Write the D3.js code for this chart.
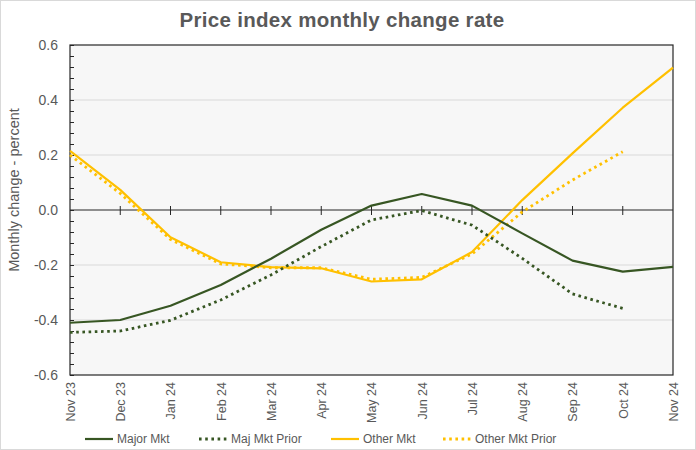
<!DOCTYPE html>
<html><head><meta charset="utf-8">
<script src="https://cdn.jsdelivr.net/npm/d3@7"></script>
<style>
html,body{margin:0;padding:0;background:#fff;}
svg{display:block;font-family:"Liberation Sans",Arial,sans-serif;}
</style></head>
<body>
<svg id="chart" width="696" height="450"></svg>
<script>
const months = ["Nov 23","Dec 23","Jan 24","Feb 24","Mar 24","Apr 24","May 24","Jun 24","Jul 24","Aug 24","Sep 24","Oct 24","Nov 24"];
const majorMkt = [-0.41,-0.40,-0.348,-0.273,-0.177,-0.072,0.016,0.058,0.016,-0.085,-0.184,-0.224,-0.207];
const majMktPrior = [-0.445,-0.44,-0.401,-0.327,-0.236,-0.133,-0.036,-0.002,-0.055,-0.176,-0.305,-0.358,null];
const otherMkt = [0.215,0.073,-0.099,-0.19,-0.208,-0.212,-0.26,-0.252,-0.153,0.036,0.206,0.372,0.518];
const otherMktPrior = [0.2,0.06,-0.107,-0.196,-0.21,-0.21,-0.252,-0.245,-0.16,-0.007,0.109,0.212,null];
const yTicks = [-0.6,-0.4,-0.2,0.0,0.2,0.4,0.6];
const title = "Price index monthly change rate";
const yLabel = "Monthly change - percent";

const svg = d3.select("#chart");
const W = 696, H = 450;
const L = 70, R = 673, T = 45, B = 375;
const green = "#375623", gold = "#FFC000";
const DOT = "2.6,3.6";

svg.append("rect").attr("x",0.5).attr("y",0.5).attr("width",W-1).attr("height",H-1)
  .attr("fill","#fff").attr("stroke","#d9d9d9");

const x = d3.scalePoint().domain(months).range([L,R]);
const y = d3.scaleLinear().domain([-0.6,0.6]).range([B,T]);

svg.append("rect").attr("x",L).attr("y",T).attr("width",R-L).attr("height",B-T).attr("fill","#f7f7f7");

// gridlines
svg.append("g").selectAll("line").data(yTicks.filter(v=>v!==0 && Math.abs(v)<0.6)).join("line")
  .attr("x1",L).attr("x2",R).attr("y1",d=>y(d)).attr("y2",d=>y(d))
  .attr("stroke","#d9d9d9").attr("stroke-width",1);

// y axis labels
const fmt = v => d3.format(".1f")(v).replace("\u2212","-");
const yAx = svg.append("g").attr("transform",`translate(${L},0)`)
  .call(d3.axisLeft(y).tickValues(yTicks).tickFormat(fmt).tickSize(0).tickPadding(12));
yAx.select(".domain").remove();
yAx.selectAll("text").attr("fill","#595959").style("font-size","14px").style("font-family","Liberation Sans, Arial, sans-serif");

// minor ticks inside
const minor = d3.range(-0.6,0.6001,0.04).map(v=>+v.toFixed(2));
const mAx = svg.append("g").attr("transform",`translate(${L},0)`)
  .call(d3.axisRight(y).tickValues(minor).tickSize(4).tickFormat(""));
mAx.select(".domain").remove();
mAx.selectAll("line").attr("stroke","#262626");

// zero line with crossing ticks
svg.append("line").attr("x1",L).attr("x2",R).attr("y1",y(0)).attr("y2",y(0)).attr("stroke","#262626").attr("stroke-width",1.2);
svg.append("g").selectAll("line").data(months.slice(1,-1)).join("line")
  .attr("x1",d=>x(d)).attr("x2",d=>x(d)).attr("y1",y(0)-4).attr("y2",y(0)+5)
  .attr("stroke","#262626").attr("stroke-width",1);

// x axis labels
const xAx = svg.append("g").attr("transform",`translate(0,${B})`)
  .call(d3.axisBottom(x).tickSize(0));
xAx.select(".domain").remove();
xAx.selectAll("text").attr("transform","rotate(-90)").attr("x",-7).attr("y",0).attr("dy","0.35em")
  .style("text-anchor","end").attr("fill","#595959").style("font-size","12.5px").style("font-family","Liberation Sans, Arial, sans-serif");

// plot border
svg.append("rect").attr("x",L).attr("y",T).attr("width",R-L).attr("height",B-T)
  .attr("fill","none").attr("stroke","#262626").attr("stroke-width",1.2);

// lines
const line = d3.line().defined(d=>d.v!==null).x(d=>x(d.m)).y(d=>y(d.v));
const series = [
  {name:"Major Mkt", vals:majorMkt, color:green, dash:null},
  {name:"Maj Mkt Prior", vals:majMktPrior, color:green, dash:true},
  {name:"Other Mkt", vals:otherMkt, color:gold, dash:null},
  {name:"Other Mkt Prior", vals:otherMktPrior, color:gold, dash:true}
];
const drawOrder = [series[3],series[2],series[1],series[0]];
drawOrder.forEach(s=>{
  svg.append("path").datum(s.vals.map((v,i)=>({m:months[i],v})))
    .attr("d",line).attr("fill","none").attr("stroke",s.color)
    .attr("stroke-width",s.dash?2.8:2.2)
    .attr("stroke-dasharray",s.dash?DOT:null)
    .attr("stroke-linejoin","round");
});

// title
svg.append("text").attr("x",342).attr("y",27).attr("text-anchor","middle")
  .attr("fill","#595959").style("font-size","20.5px").style("font-weight","bold")
  .style("letter-spacing","0.3px").text(title);

// y label
svg.append("text").attr("transform",`translate(18.5,190) rotate(-90)`).attr("text-anchor","middle")
  .attr("fill","#595959").style("font-size","14.5px")
  .style("font-family","'Liberation Sans Narrow','Arial Narrow',sans-serif").text(yLabel);

// legend
const legX = [85,199,331,443];
const lg = svg.append("g");
series.forEach((s,i)=>{
  const g = lg.append("g").attr("transform",`translate(${legX[i]},439)`);
  g.append("line").attr("x1",0).attr("x2",28).attr("y1",0).attr("y2",0)
    .attr("stroke",s.color).attr("stroke-width",s.dash?2.8:2.2)
    .attr("stroke-dasharray",s.dash?DOT:null);
  g.append("text").attr("x",32).attr("y",0).attr("dy","0.35em")
    .attr("fill","#595959").style("font-size","12px").text(s.name);
});
</script>
</body></html>
